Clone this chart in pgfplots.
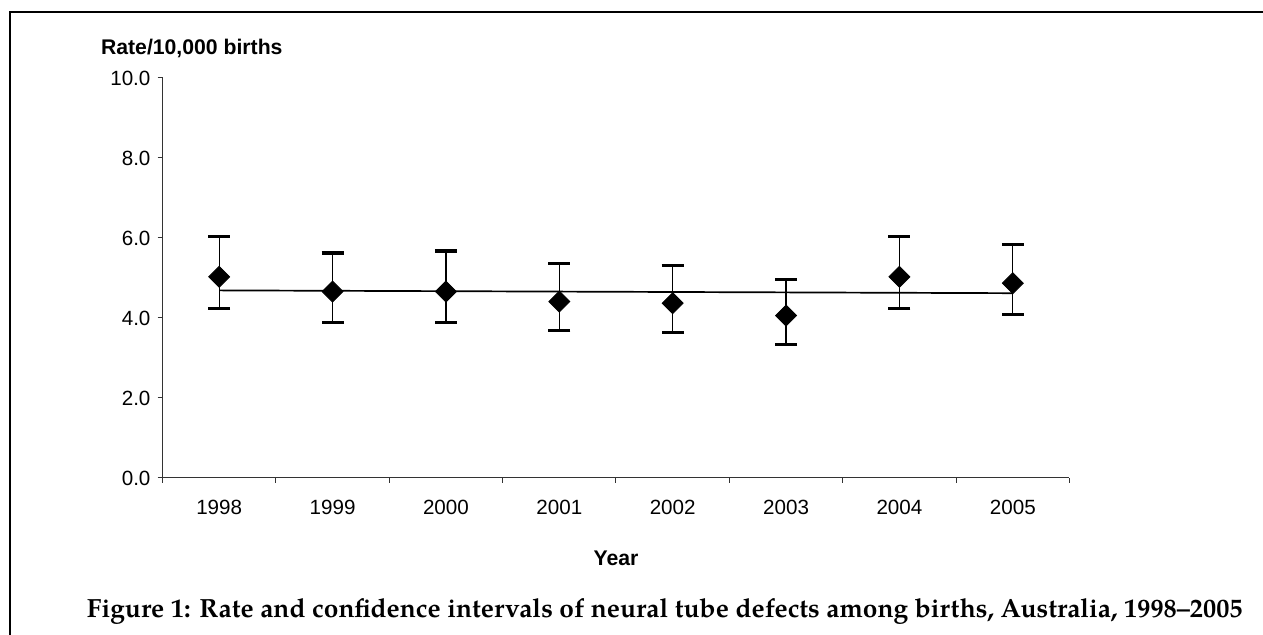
\documentclass[border=0pt]{standalone}
\usepackage{fontspec}
\setmainfont{Liberation Sans}
\newfontfamily\capfont{TeX Gyre Pagella}
\usepackage{pgfplots}
\pgfplotsset{compat=1.18}
\usepackage{pgfplotstable}

\pgfplotstableread{
x y ep em
0 5.03 1.00 0.79
1 4.66 0.96 0.78
2 4.66 1.01 0.78
3 4.41 0.95 0.72
4 4.37 0.94 0.74
5 4.06 0.90 0.72
6 5.03 1.00 0.79
7 4.87 0.96 0.79
}\ratedata

\pgfplotstableread{
x y
0 4.69
7 4.62
}\trenddata

\begin{document}
\begin{tikzpicture}
\path[use as bounding box] (0,0) rectangle (631.5pt,317.5pt);
\draw[line width=1.15pt] (5pt,0) -- (5pt,311.5pt) -- (631.5pt,311.5pt);
\begin{axis}[
  at={(81.25pt,78.5pt)}, anchor=south west,
  scale only axis, width=453.5pt, height=200pt,
  xmin=-0.5, xmax=7.5, ymin=0, ymax=10,
  axis x line*=bottom, axis y line*=left,
  axis line style={line width=0.5pt, black!80},
  tick align=outside,
  tick style={line width=0.5pt, black!80},
  xtick={0,...,7},
  xticklabels={1998,1999,2000,2001,2002,2003,2004,2005},
  major x tick style={draw=none},
  minor xtick={-0.5,0.5,...,7.5},
  minor tick length=2.5pt,
  major tick length=2.5pt,
  ytick={0,2,...,10},
  /pgf/number format/assume math mode=true,
  yticklabel style={/pgf/number format/.cd, fixed, fixed zerofill, precision=1},
  tick label style={font=\fontsize{10.3pt}{12pt}\selectfont},
  xticklabel style={anchor=base, yshift=-16pt},
  clip=false,
]
\addplot[black, line width=0.85pt, no marks] table[x=x,y=y] {\trenddata};
\addplot[black, only marks, mark=square*, mark size=3.7pt,
  mark options={rotate=45, fill=black},
  error bars/.cd, y dir=both, y explicit,
  error bar style={line width=0.65pt, black},
  error mark=-,
  error mark options={line width=1.7pt, mark size=5.5pt, black, rotate=90}]
  table[x=x, y=y, y error plus=ep, y error minus=em] {\ratedata};
\end{axis}
\node[anchor=base west, font=\bfseries\fontsize{10.6pt}{12pt}\selectfont] at (47pt,290pt) {Rate/10,000 births};
\node[anchor=base, font=\bfseries\fontsize{10.6pt}{12pt}\selectfont] at (308pt,34.5pt) {Year};
\node[anchor=base east, inner sep=0pt] at (621.5pt,8.5pt) {\capfont\bfseries\fontsize{13.15pt}{15pt}\selectfont Figure 1: Rate and confidence intervals of neural tube defects among births, Australia, 1998–2005};
\end{tikzpicture}
\end{document}
